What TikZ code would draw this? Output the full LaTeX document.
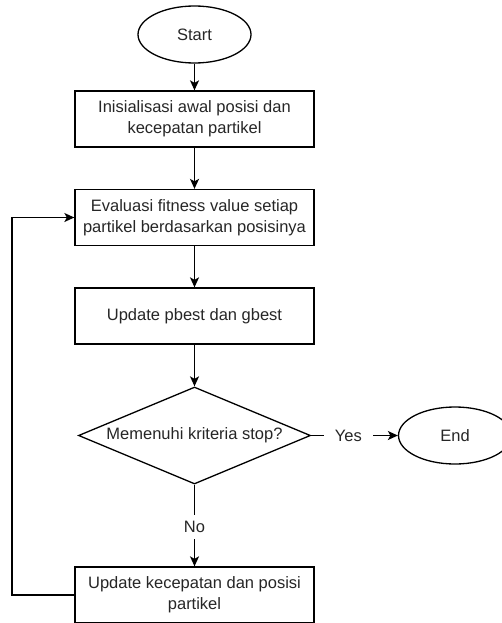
\documentclass[tikz,border=0pt]{standalone}
\usepackage{fontspec}
\setmainfont{Liberation Sans}
\usetikzlibrary{shapes.geometric,arrows.meta}
\begin{document}
\begin{tikzpicture}[x=1pt,y=-1pt]
        \tikzstyle{block} = [rectangle, text=black!85, text centered, align=center, draw=black, line width=1.3pt, minimum width=239pt, minimum height=56pt, inner sep=0pt]
        \tikzstyle{term} = [ellipse, text=black!85, draw=black, line width=1.3pt, minimum width=113pt, minimum height=57pt, inner sep=0pt]
        \tikzstyle{decide} = [diamond, aspect=2.4, text=black!85, draw=black, line width=1.3pt, minimum width=232pt, minimum height=97pt, inner sep=0pt]
        \tikzstyle{line} = [-{Stealth[length=10pt,width=9pt,inset=2.5pt]},draw=black,line width=1.3pt]
        \tikzstyle{lbl} = [fill=white, text=black!85, inner xsep=11pt, inner ysep=6pt]
        \useasboundingbox (0,0) rectangle (501,623);
        \fontsize{16.5}{21}\selectfont
        \node[term] (start) at (194.5,34.5) {Start};
        \node[block] (init) at (194.5,119) {Inisialisasi awal posisi dan\\kecepatan partikel};
        \node[block] (eval) at (194.5,217.5) {Evaluasi fitness value setiap\\partikel berdasarkan posisinya};
        \node[block] (best) at (194.5,316) {Update pbest dan gbest};
        \node[decide] (stop) at (194.5,435.5) {Memenuhi kriteria stop?};
        \node[term] (end) at (455,435.5) {End};
        \node[block] (move) at (194.5,595) {Update kecepatan dan posisi\\partikel};
        \coordinate (back) at (12,595);
        \draw[line] (start) to (init);
        \draw[line] (init) to (eval);
        \draw[line] (eval) to (best);
        \draw[line] (best) to (stop);
        \draw[line] (stop) to node[lbl,pos=0.43] {Yes} (end);
        \draw[line] (stop) to node[lbl,pos=0.52] {No} (move);
        \draw[line] (move.west) -- (back) |- (eval.west);
    \end{tikzpicture}
\end{document}
